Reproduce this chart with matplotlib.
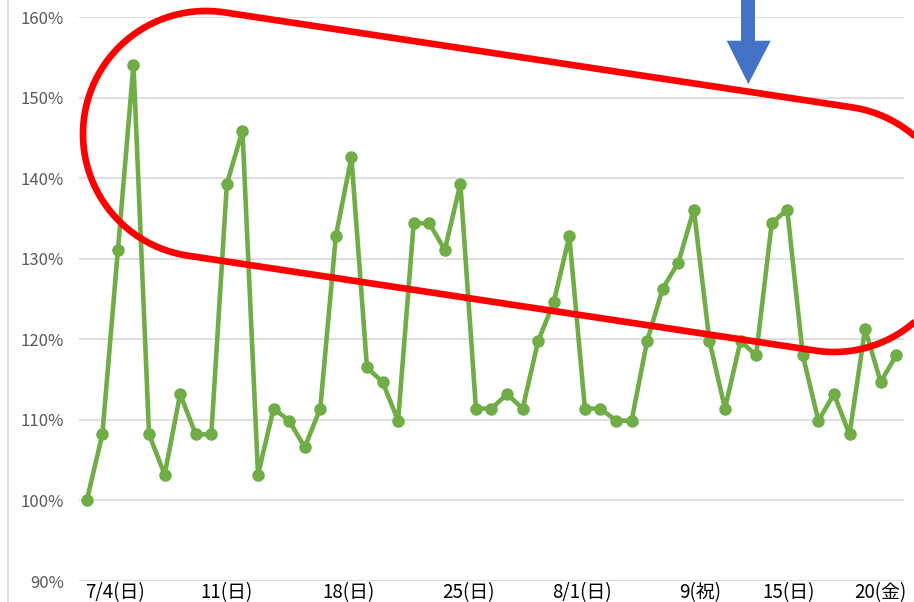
import matplotlib
matplotlib.use("Agg")
import matplotlib.pyplot as plt
import numpy as np
from matplotlib.patches import Polygon
from matplotlib.ticker import PercentFormatter

plt.rcParams['font.family'] = ['Noto Sans CJK JP', 'DejaVu Sans']

# daily ratio (%)
ratio = [100.0, 108.2, 131.1, 154.1, 108.2, 103.2, 113.2, 108.2, 108.2, 139.3,
         145.9, 103.2, 111.4, 109.9, 106.6, 111.4, 132.8, 142.6, 116.5, 114.7,
         109.9, 134.4, 134.4, 131.1, 139.3, 111.4, 111.4, 113.2, 111.4, 119.8,
         124.6, 132.8, 111.4, 111.4, 109.9, 109.9, 119.8, 126.3, 129.5, 136.1,
         119.8, 111.4, 119.8, 118.0, 134.4, 136.1, 118.0, 109.9, 113.2, 108.2,
         121.3, 114.7, 118.0]

# x labels and where they sit (in point-index units)
label_pos = [1.8, 9.0, 16.8, 24.5, 31.8, 39.4, 45.1, 51.0]
labels = ['7/4(日)', '11(日)', '18(日)', '25(日)', '8/1(日)', '9(祝)', '15(日)', '20(金)']

W, H = 914, 602
fig = plt.figure(figsize=(W / 100, H / 100), dpi=100)
ax = fig.add_axes([79 / W, 1 - 581 / H, (904 - 79) / W, (581 - 17) / H])

x = np.arange(len(ratio))
ax.plot(x, ratio, color='#70AD47', lw=3.3, marker='o', ms=8, zorder=3)

ax.set_xlim(-0.5, len(ratio) - 0.5)
ax.set_ylim(90, 160)
ax.set_yticks(np.arange(90, 161, 10))
ax.yaxis.set_major_formatter(PercentFormatter(decimals=0))
ax.grid(axis='y', color='#D9D9D9', lw=1.2)
ax.set_axisbelow(True)
for s in ax.spines.values():
    s.set_visible(False)
ax.tick_params(axis='y', length=0, pad=11, labelsize=12, labelcolor='#595959')
ax.set_xticks(label_pos)
ax.set_xticklabels(labels)
ax.tick_params(axis='x', length=0, pad=0.5, labelsize=13.5, labelcolor='black')

# overlay in pixel coords for the hand-drawn shapes
ov = fig.add_axes([0, 0, 1, 1], facecolor='none')
ov.set_xlim(0, W)
ov.set_ylim(H, 0)
ov.axis('off')

# left border line of chart area
ov.plot([8, 8], [0, H], color='#D9D9D9', lw=1.2)

# red stadium
c1 = np.array([206.0, 134.0])
c2 = np.array([834.0, 229.0])
r = 123.0
th = np.arctan2(c2[1] - c1[1], c2[0] - c1[0])
a1 = np.linspace(th - np.pi / 2, th + np.pi / 2, 100)
a2 = np.linspace(th + np.pi / 2, th + 3 * np.pi / 2, 100)
px = np.concatenate([c2[0] + r * np.cos(a1), c1[0] + r * np.cos(a2)])
py = np.concatenate([c2[1] + r * np.sin(a1), c1[1] + r * np.sin(a2)])
ov.fill(px, py, facecolor='none', edgecolor='#FF0000', lw=4.8, zorder=5)

# blue arrow
arrow = [(741, 0), (755, 0), (755, 40.7), (770.7, 40.7), (748.3, 84),
         (726.7, 40.7), (741, 40.7)]
ov.add_patch(Polygon(arrow, closed=True, facecolor='#4472C4', edgecolor='none', zorder=6))

fig.savefig('out.png', dpi=100)
